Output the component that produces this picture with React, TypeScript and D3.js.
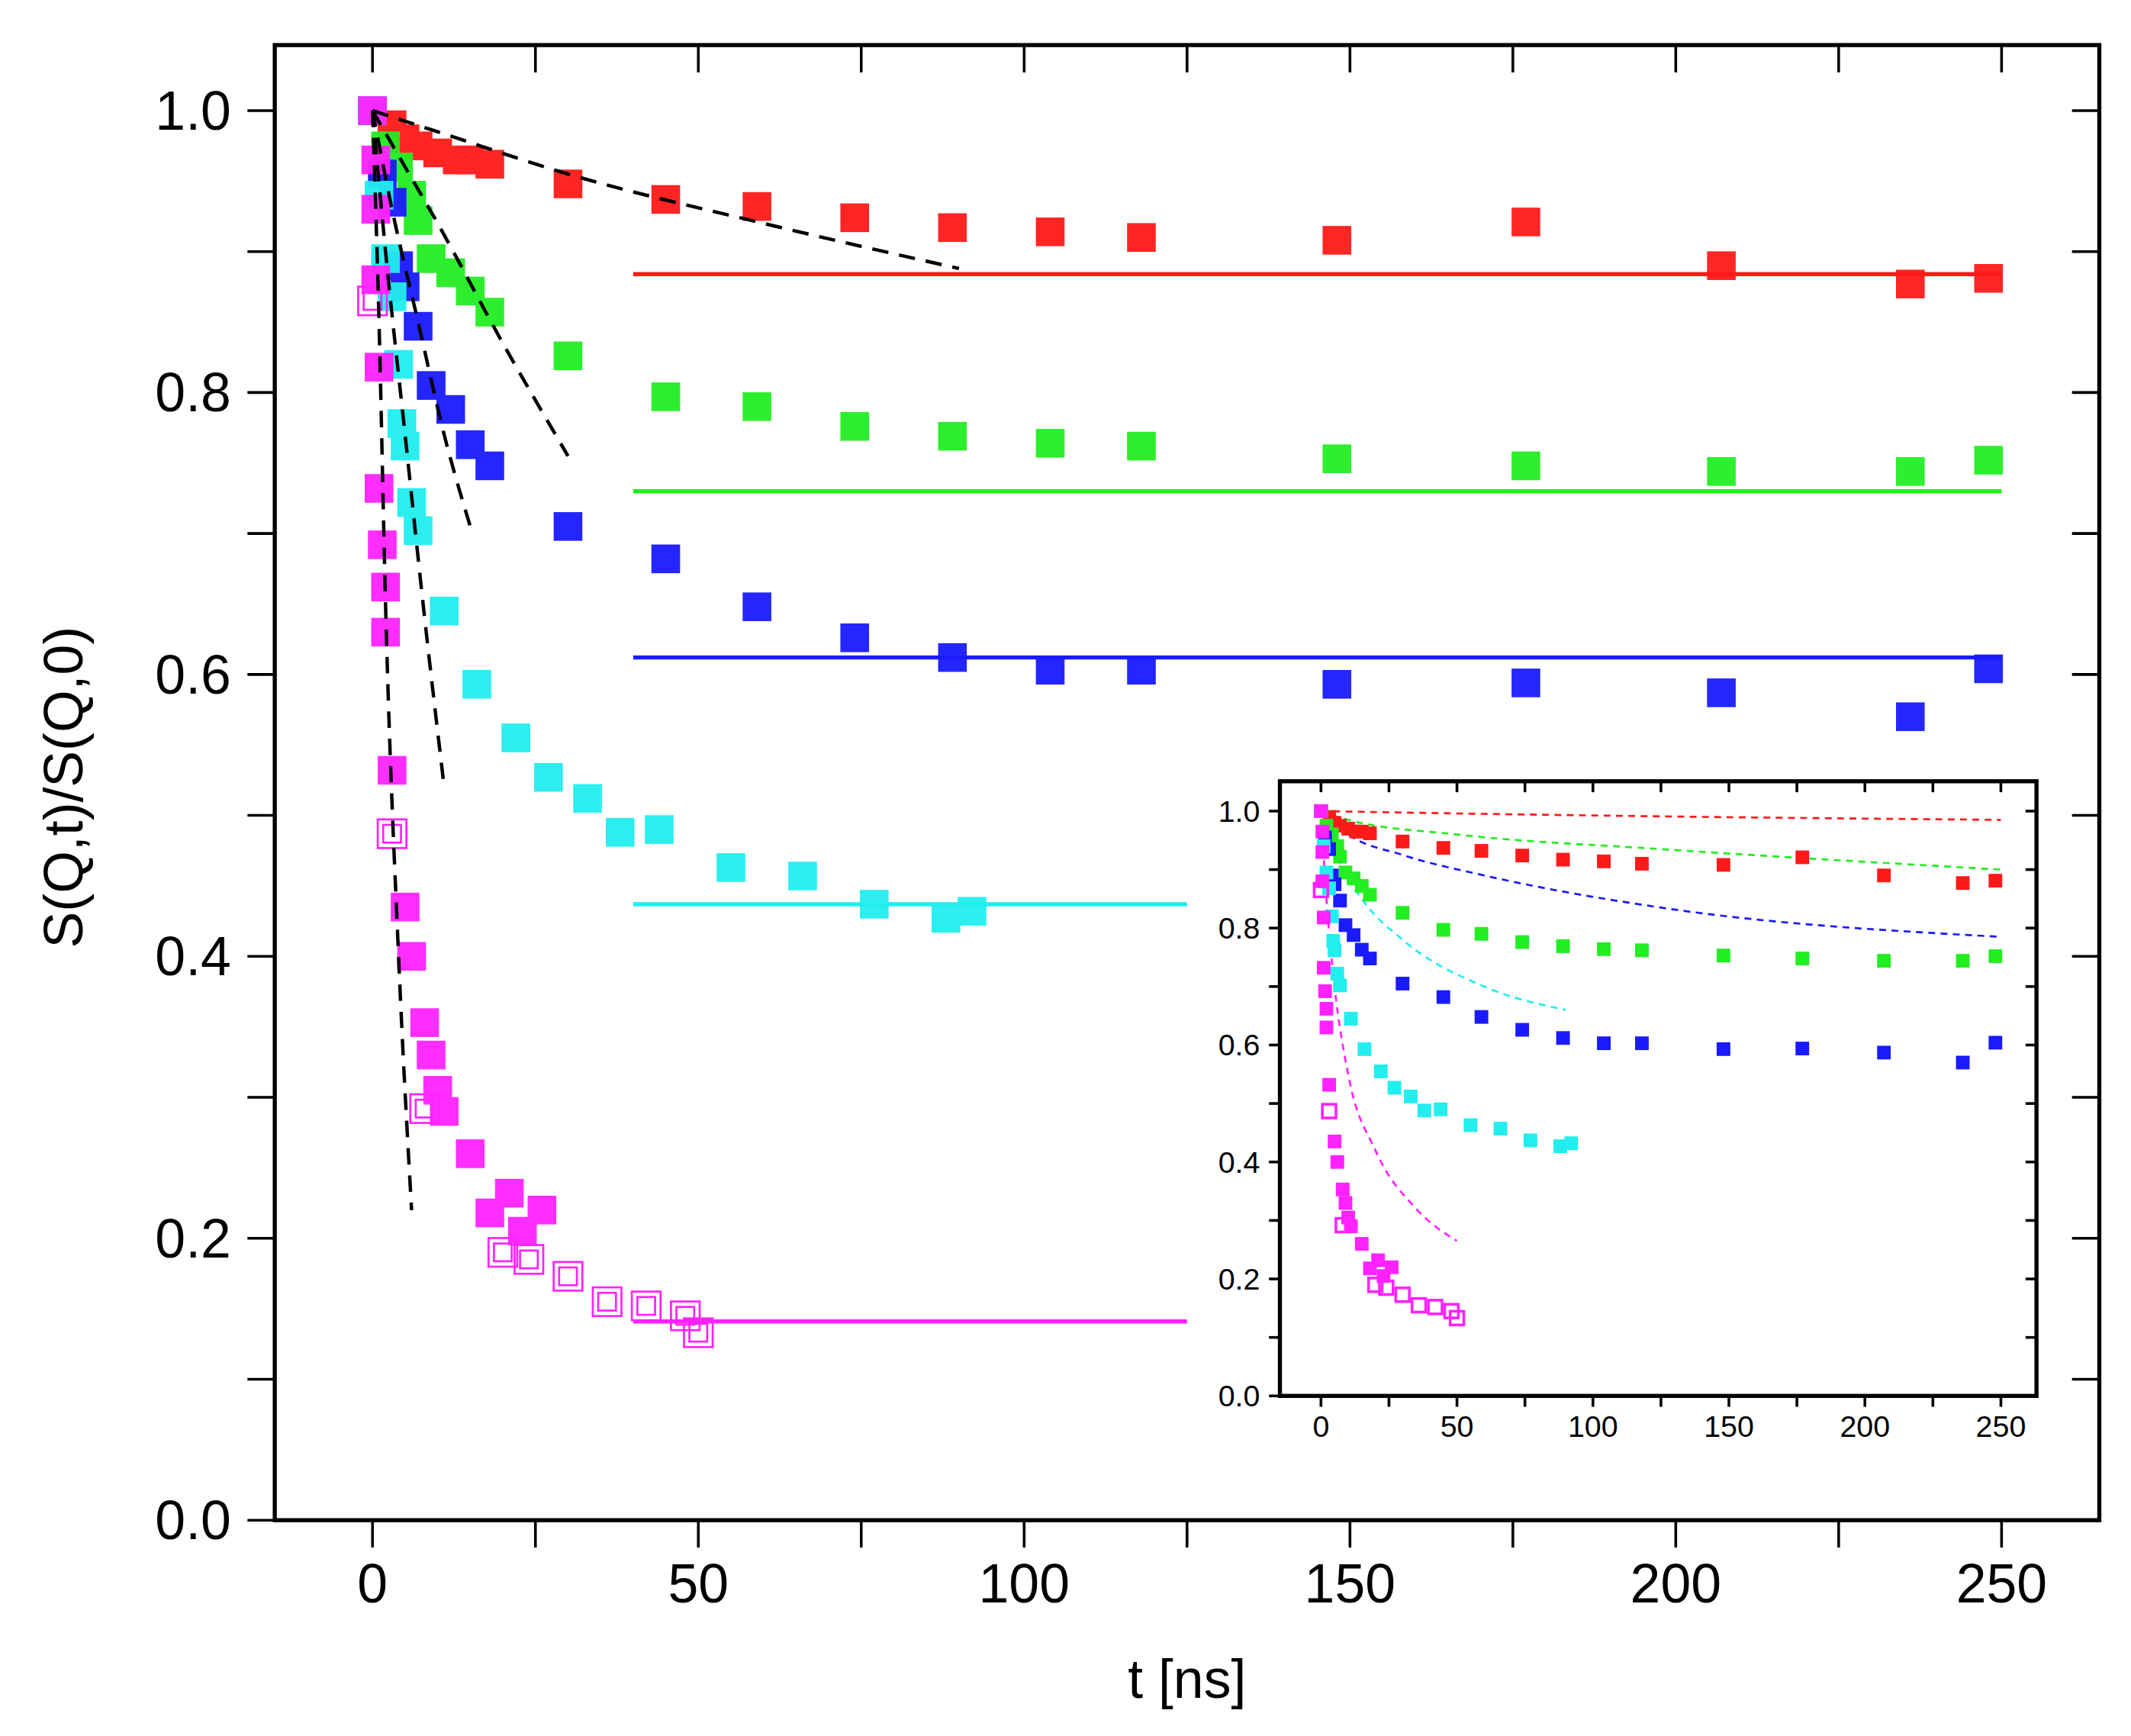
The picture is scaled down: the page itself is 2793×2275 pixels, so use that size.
import * as d3 from "d3"

type P = [number, number]

const redPts: P[] = [[0,1.0],[3,0.99],[5,0.98],[7,0.975],[10,0.97],[13,0.965],[15,0.965],[18,0.962],[30,0.948],[45,0.937],[59,0.932],[74,0.924],[89,0.917],[104,0.914],[118,0.91],[148,0.908],[177,0.921],[207,0.89],[236,0.877],[248,0.881]]
const greenPts: P[] = [[0,1.0],[2,0.975],[4,0.96],[6,0.94],[7,0.922],[9,0.895],[12,0.885],[15,0.872],[18,0.857],[30,0.826],[45,0.797],[59,0.79],[74,0.776],[89,0.769],[104,0.764],[118,0.762],[148,0.753],[177,0.748],[207,0.744],[236,0.744],[248,0.752]]
const bluePts: P[] = [[0,1.0],[1.5,0.955],[3,0.935],[4,0.89],[5,0.875],[7,0.847],[9,0.805],[12,0.788],[15,0.763],[18,0.748],[30,0.705],[45,0.682],[59,0.648],[74,0.626],[89,0.612],[104,0.603],[118,0.603],[148,0.593],[177,0.594],[207,0.587],[236,0.57],[248,0.604]]
const cyanPts: P[] = [[0,1.0],[1,0.94],[2,0.895],[3,0.868],[4,0.82],[4.5,0.778],[5,0.762],[6,0.722],[7,0.702],[11,0.645],[16,0.593],[22,0.555],[27,0.527],[33,0.512],[38,0.488],[44,0.49],[55,0.463],[66,0.457],[77,0.437],[88,0.427],[92,0.432]]
const magentaPts: P[] = [[0,1.0],[0.5,0.965],[0.5,0.93],[0.5,0.88],[1,0.818],[1,0.732],[1.5,0.692],[2,0.662],[2,0.63],[3,0.532],[5,0.435],[6,0.4],[8,0.353],[9,0.33],[10,0.305],[11,0.29],[15,0.26],[18,0.218],[21,0.232],[23,0.205],[26,0.22]]
const magentaOpen: P[] = [[0,0.865],[3,0.487],[8,0.292],[20,0.19],[24,0.185],[30,0.173],[36,0.155],[42,0.152],[48,0.145],[50,0.133]]

// plateau levels (solid lines): [colour, value, tEnd]
const plateaus: [string, number, number][] = [["#ff1a1a",0.884,250],["#22ee22",0.73,250],["#1a1aff",0.612,250],["#22eeee",0.437,125],["#ff22ff",0.141,125]]

// black dashed fits in main plot
const mainFits: P[][] = [
  [[0,1],[10,0.985],[30,0.955],[60,0.92],[90,0.888]],
  [[0,1],[5,0.96],[10,0.92],[20,0.835],[30,0.755]],
  [[0,1],[3,0.93],[7,0.85],[11,0.77],[15,0.705]],
  [[0,1],[2,0.9],[5,0.77],[8,0.64],[11,0.52]],
  [[0,1],[1,0.85],[2,0.65],[4,0.4],[6,0.22]],
]
// coloured dashed curves in inset
const insetFits: P[][] = [
  [[0,1],[50,0.996],[125,0.991],[250,0.985]],
  [[0,1],[10,0.985],[50,0.96],[125,0.935],[250,0.9]],
  [[0,1],[10,0.96],[30,0.925],[60,0.89],[125,0.835],[250,0.785]],
  [[0,1],[5,0.93],[15,0.85],[30,0.78],[60,0.7],[90,0.66]],
  [[0,1],[2,0.85],[5,0.7],[10,0.55],[20,0.42],[35,0.32],[50,0.265]],
]

const RED = "#ff1a1a", GREEN = "#22ee22", BLUE = "#1a1aff", CYAN = "#22eeee", MAG = "#ff22ff"
const series: [string, P[]][] = [[RED, redPts],[GREEN, greenPts],[BLUE, bluePts],[CYAN, cyanPts],[MAG, magentaPts]]
const insetColors = [RED, GREEN, BLUE, CYAN, MAG]

const xTicks = [0, 50, 100, 150, 200, 250]
const yTicks = [0, 0.2, 0.4, 0.6, 0.8, 1.0]
const FONT = "Liberation Sans, Arial, sans-serif"

function Frame({ x, y, tick, font }: any) {
  const [l, r] = x.range(), [b, t] = y.range()
  const xMinor = d3.range(0, 251, 25), yMinor = d3.range(0, 1.01, 0.1)
  return (
    <g>
      {xMinor.map((v) => (
        <g key={"x" + v}>
          <line x1={x(v)} x2={x(v)} y1={b} y2={b + tick} stroke="#000" strokeWidth={2} />
          <line x1={x(v)} x2={x(v)} y1={t} y2={t + tick} stroke="#000" strokeWidth={2} />
        </g>
      ))}
      {yMinor.map((v) => (
        <g key={"y" + v}>
          <line x1={l} x2={l - tick} y1={y(v)} y2={y(v)} stroke="#000" strokeWidth={2} />
          <line x1={r} x2={r - tick} y1={y(v)} y2={y(v)} stroke="#000" strokeWidth={2} />
        </g>
      ))}
      <rect x={l} y={t} width={r - l} height={b - t} fill="none" stroke="#000" strokeWidth={3} />
      {xTicks.map((v) => (
        <text key={"xl" + v} x={x(v)} y={b + tick + font * 1.0} textAnchor="middle" fontSize={font} fontFamily={FONT}>{v}</text>
      ))}
      {yTicks.map((v) => (
        <text key={"yl" + v} x={l - tick - font * 0.3} y={y(v)} dy="0.35em" textAnchor="end" fontSize={font} fontFamily={FONT}>{v.toFixed(1)}</text>
      ))}
    </g>
  )
}

export default function App() {
  const x = d3.scaleLinear().domain([-15, 265]).range([201, 1537])
  const y = d3.scaleLinear().domain([0, 1.0465]).range([1113, 33])
  const xi = d3.scaleLinear().domain([-15.1, 263.1]).range([937, 1491])
  const yi = d3.scaleLinear().domain([0, 1.051]).range([1022, 572])
  const line = (sx: any, sy: any) => d3.line<P>().x((d) => sx(d[0])).y((d) => sy(d[1])).curve(d3.curveMonotoneX)
  const S = 21, s = 10

  return (
    <svg width={2793} height={2275} viewBox="0 0 1560 1271" style={{ position: "absolute", left: 0, top: 0, background: "#fff" }}>
      <rect width={1560} height={1271} fill="#fff" />
      {/* main plot */}
      {plateaus.map(([c, v, te], i) => (
        <line key={i} x1={x(40)} x2={x(te)} y1={y(v)} y2={y(v)} stroke={c} strokeWidth={3} />
      ))}
      {series.map(([c, pts], i) => (
        <g key={i} fill={c} opacity={0.95}>
          {pts.map((d, j) => <rect key={j} x={x(d[0]) - S / 2} y={y(d[1]) - S / 2} width={S} height={S} />)}
        </g>
      ))}
      {magentaOpen.map((d, j) => (
        <g key={j} stroke={MAG} fill="none" strokeWidth={1.5}>
          <rect x={x(d[0]) - S / 2} y={y(d[1]) - S / 2} width={S} height={S} />
          <rect x={x(d[0]) - S / 2 + 4} y={y(d[1]) - S / 2 + 4} width={S - 8} height={S - 8} />
        </g>
      ))}
      {mainFits.map((f, i) => (
        <path key={i} d={line(x, y)(f)!} fill="none" stroke="#000" strokeWidth={2.5} strokeDasharray="12 8" />
      ))}
      <Frame x={x} y={y} tick={20} font={40} />
      <text x={x(125)} y={1243} textAnchor="middle" fontSize={40} fontFamily={FONT}>t [ns]</text>
      <text transform={`translate(60,${y(0.52)}) rotate(-90)`} textAnchor="middle" fontSize={40} fontFamily={FONT}>S(Q,t)/S(Q,0)</text>

      {/* inset */}
      <rect x={937} y={572} width={554} height={450} fill="#fff" />
      {insetFits.map((f, i) => (
        <path key={i} d={line(xi, yi)(f)!} fill="none" stroke={insetColors[i]} strokeWidth={1.5} strokeDasharray="5 4" />
      ))}
      {series.map(([c, pts], i) => (
        <g key={i} fill={c}>
          {pts.map((d, j) => <rect key={j} x={xi(d[0]) - s / 2} y={yi(d[1]) - s / 2} width={s} height={s} />)}
        </g>
      ))}
      {magentaOpen.map((d, j) => (
        <rect key={j} x={xi(d[0]) - s / 2} y={yi(d[1]) - s / 2} width={s} height={s} fill="none" stroke={MAG} strokeWidth={2} />
      ))}
      <Frame x={xi} y={yi} tick={8} font={22} />
    </svg>
  )
}
